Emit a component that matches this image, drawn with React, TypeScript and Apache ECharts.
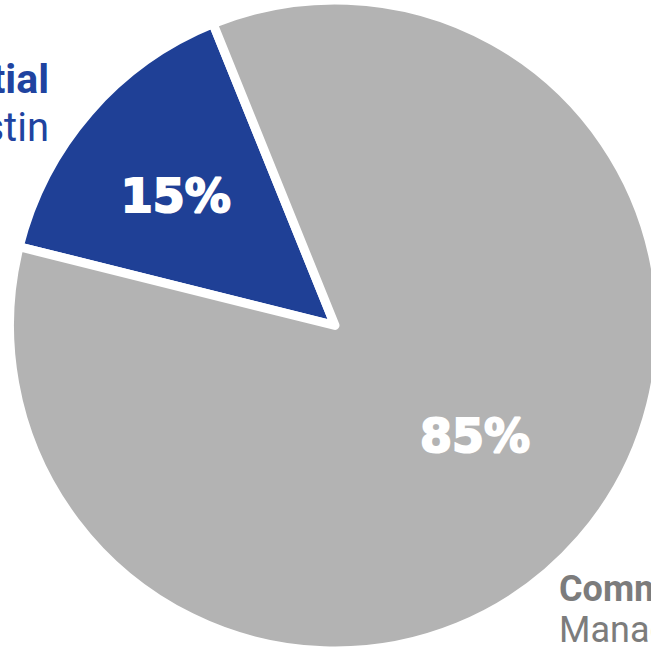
import React, { useEffect, useRef } from "react";
import * as echarts from "echarts";

// Data
const categories = ["Residential", "Commercial"];
const subLabels = ["Austin", "Management"];
const values = [15, 85];
const sliceColors = ["#1f4096", "#b3b3b3"];
const nameColors = ["#2043a0", "#7c7c7c"];

// Label nudges (from the default inside position)
const labelNudge = [
  { dx: -34, dy: -21 },
  { dx: 15, dy: 2 },
];

export default function App() {
  const ref = useRef<HTMLDivElement>(null);

  useEffect(() => {
    if (!ref.current) return;
    const chart = echarts.init(ref.current, null, { renderer: "svg" });
    const option: any = {
      animation: false,
      backgroundColor: "#ffffff",
      series: [
        {
          type: "pie",
          center: [335, 325.5],
          radius: [0, 325.5],
          startAngle: 166,
          clockwise: true,
          avoidLabelOverlap: false,
          itemStyle: {
            borderColor: "#ffffff",
            borderWidth: 9,
          },
          emphasis: { disabled: true },
          label: {
            show: true,
            position: "inside",
            formatter: (p: any) => `${p.value}%`,
            color: "#ffffff",
            fontFamily: "DejaVu Sans",
            fontWeight: "bold",
            fontSize: 46,
            textBorderColor: "#ffffff",
            textBorderWidth: 2,
          },
          labelLine: { show: false },
          labelLayout: (p: any) => labelNudge[p.dataIndex],
          data: categories.map((c, i) => ({
            name: c,
            value: values[i],
            itemStyle: { color: sliceColors[i] },
          })),
        },
      ],
      graphic: [
        {
          type: "text",
          x: 49,
          y: 79,
          style: {
            text: categories[0],
            fill: nameColors[0],
            font: "bold 41px Roboto",
            align: "right",
            verticalAlign: "middle",
          },
        },
        {
          type: "text",
          x: 49,
          y: 127,
          style: {
            text: subLabels[0],
            fill: nameColors[0],
            font: "40px Roboto",
            align: "right",
            verticalAlign: "middle",
          },
        },
        {
          type: "text",
          x: 559,
          y: 589,
          style: {
            text: categories[1],
            fill: nameColors[1],
            font: "bold 36px Roboto",
            align: "left",
            verticalAlign: "middle",
          },
        },
        {
          type: "text",
          x: 559,
          y: 630,
          style: {
            text: subLabels[1],
            fill: nameColors[1],
            font: "36px Roboto",
            align: "left",
            verticalAlign: "middle",
          },
        },
      ],
    };
    chart.setOption(option);
    return () => chart.dispose();
  }, []);

  return (
    <div
      ref={ref}
      style={{ position: "fixed", left: 0, top: 0, width: 651, height: 648 }}
    />
  );
}
